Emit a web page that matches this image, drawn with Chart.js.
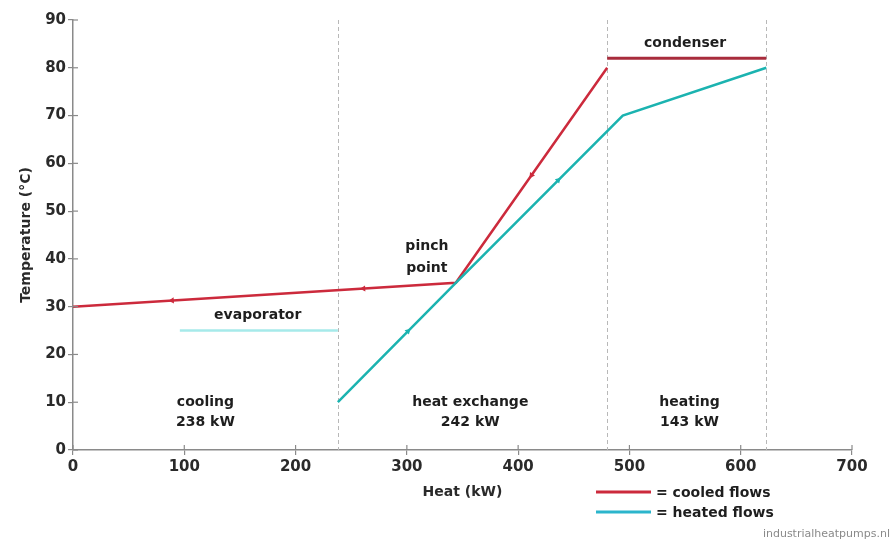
<!DOCTYPE html>
<html>
<head>
<meta charset="utf-8">
<script src="https://cdn.jsdelivr.net/npm/chart.js@4/dist/chart.umd.min.js"></script>
<style>
html,body{margin:0;padding:0;background:#fff;}
#wrap{width:894px;height:544px;position:relative;}
</style>
</head>
<body>
<div id="wrap"><canvas id="c" width="894" height="544"></canvas></div>
<script>
// ---- data (Heat kW, Temperature °C) ----
const cooledX = [0, 344, 480];
const cooledY = [30, 35, 80];
const condenserX = [480, 623];
const condenserY = [82, 82];
const heatedX = [238, 344, 494, 623];
const heatedY = [10, 35, 70, 80];
const evaporatorX = [96, 238];
const evaporatorY = [25, 25];
const boundaryX = [238, 480, 623];
const cooledArrowX = [89, 261, 412];
const heatedArrowX = [301, 436];
const xTicks = [0, 100, 200, 300, 400, 500, 600, 700];
const yTicks = [0, 10, 20, 30, 40, 50, 60, 70, 80, 90];
const zoneLabels = [["cooling", "238 kW"], ["heat exchange", "242 kW"], ["heating", "143 kW"]];
const zoneCentres = [119, 357, 554];
const legendLabels = ["= cooled flows", "= heated flows"];

const RED = '#cc2a3c', RED_DARK = '#a82c3c', CYAN = '#1bb3b0', CYAN_LIGHT = '#a6eaea';
const FONT = '"DejaVu Sans", sans-serif';

const pts = (xs, ys) => xs.map((x, i) => ({x, y: ys[i]}));
function interp(xs, ys, x) {
  for (let i = 0; i < xs.length - 1; i++) {
    if (x >= xs[i] && x <= xs[i+1]) return ys[i] + (ys[i+1]-ys[i]) * (x - xs[i]) / (xs[i+1]-xs[i]);
  }
  return ys[ys.length-1];
}
const cooledArrows = cooledArrowX.map(x => ({x, y: interp(cooledX, cooledY, x)}));
const heatedArrows = heatedArrowX.map(x => ({x, y: interp(heatedX, heatedY, x)}));

function arrowRotation(xs, ys, dir) {
  return ctx => {
    const chart = ctx.chart, sx = chart.scales.x, sy = chart.scales.y;
    const p = ctx.raw; if (!p) return 0;
    let i = 0; while (i < xs.length - 2 && p.x > xs[i+1]) i++;
    const dx = sx.getPixelForValue(xs[i+1]) - sx.getPixelForValue(xs[i]);
    const dy = sy.getPixelForValue(ys[i+1]) - sy.getPixelForValue(ys[i]);
    return Math.atan2(dy * dir, dx * dir) * 180 / Math.PI + 90;
  };
}

const overlay = {
  id: 'overlay',
  beforeDatasetsDraw(chart) {
    const {ctx, scales: {x, y}} = chart;
    ctx.save();
    ctx.strokeStyle = '#b8b8b8';
    ctx.lineWidth = 1;
    ctx.setLineDash([4, 3]);
    boundaryX.forEach(v => {
      const px = Math.round(x.getPixelForValue(v)) + 0.5;
      ctx.beginPath(); ctx.moveTo(px, y.getPixelForValue(90)); ctx.lineTo(px, y.getPixelForValue(0)); ctx.stroke();
    });
    ctx.restore();
  },
  afterDraw(chart) {
    const {ctx, scales: {x, y}} = chart;
    ctx.save();
    ctx.strokeStyle = '#8a8a8a'; ctx.lineWidth = 1.2;
    const x0 = x.getPixelForValue(0), y0 = y.getPixelForValue(0);
    xTicks.forEach(v => { const px = x.getPixelForValue(v); ctx.beginPath(); ctx.moveTo(px, y0); ctx.lineTo(px, y0 - 5); ctx.stroke(); });
    yTicks.forEach(v => { const py = y.getPixelForValue(v); ctx.beginPath(); ctx.moveTo(x0, py); ctx.lineTo(x0 + 5, py); ctx.stroke(); });
    ctx.fillStyle = '#1e1e1e';
    ctx.font = 'bold 14px ' + FONT;
    ctx.textAlign = 'center'; ctx.textBaseline = 'middle';
    zoneLabels.forEach((lines, i) => {
      const px = x.getPixelForValue(zoneCentres[i]);
      ctx.fillText(lines[0], px, y.getPixelForValue(10));
      ctx.fillText(lines[1], px, y.getPixelForValue(5.7));
    });
    ctx.fillText('evaporator', x.getPixelForValue(166), y.getPixelForValue(28.1));
    ctx.fillText('pinch', x.getPixelForValue(318), y.getPixelForValue(42.6));
    ctx.fillText('point', x.getPixelForValue(318), y.getPixelForValue(38));
    ctx.fillText('condenser', x.getPixelForValue(550), y.getPixelForValue(85.2));
    const lx = 596, ly = [492, 512];
    [RED, '#2bb5cc'].forEach((c, i) => {
      ctx.strokeStyle = c; ctx.lineWidth = 3; ctx.setLineDash([]);
      ctx.beginPath(); ctx.moveTo(lx, ly[i]); ctx.lineTo(lx + 55, ly[i]); ctx.stroke();
      ctx.textAlign = 'left';
      ctx.fillStyle = '#1e1e1e';
      ctx.fillText(legendLabels[i], lx + 60, ly[i] + 1);
    });
    ctx.font = '11px ' + FONT;
    ctx.fillStyle = '#8a8a8a';
    ctx.textAlign = 'right';
    ctx.fillText('industrialheatpumps.nl', 890, 534);
    ctx.restore();
  }
};

const lineDs = (label, data, color, width) => ({
  label, data, showLine: true, borderColor: color, backgroundColor: color,
  borderWidth: width, pointRadius: 0, pointHoverRadius: 0, tension: 0, order: 2
});

new Chart(document.getElementById('c'), {
  type: 'scatter',
  data: {
    datasets: [
      lineDs('evaporator', pts(evaporatorX, evaporatorY), CYAN_LIGHT, 2.5),
      lineDs('heated flows', pts(heatedX, heatedY), CYAN, 2.5),
      lineDs('cooled flows', pts(cooledX, cooledY), RED, 2.5),
      lineDs('condenser', pts(condenserX, condenserY), RED_DARK, 3),
      { label: 'cooled arrows', data: cooledArrows, pointStyle: 'triangle', pointRadius: 3.5,
        backgroundColor: RED, borderColor: RED, borderWidth: 0, showLine: false, order: 1,
        rotation: arrowRotation(cooledX, cooledY, -1) },
      { label: 'heated arrows', data: heatedArrows, pointStyle: 'triangle', pointRadius: 3.5,
        backgroundColor: CYAN, borderColor: CYAN, borderWidth: 0, showLine: false, order: 1,
        rotation: arrowRotation(heatedX, heatedY, 1) }
    ]
  },
  options: {
    responsive: false,
    animation: false,
    layout: { padding: { left: 18, right: 42, top: 20, bottom: 43 } },
    plugins: { legend: { display: false }, tooltip: { enabled: false } },
    scales: {
      x: {
        type: 'linear', min: 0, max: 700,
        afterBuildTicks: s => { s.ticks = xTicks.map(v => ({value: v})); },
        afterFit: s => { s.height = 51; },
        grid: { display: true, drawOnChartArea: false, drawTicks: true, tickLength: 5, color: '#8a8a8a', lineWidth: 1.2 },
        border: { display: true, color: '#8a8a8a', width: 1.5 },
        ticks: { color: '#2a2a2a', font: { family: FONT, size: 15, weight: 'bold' }, padding: 3, maxRotation: 0 },
        title: { display: true, text: 'Heat (kW)', color: '#2a2a2a', font: { family: FONT, size: 14, weight: 'bold' }, padding: { top: 0, bottom: 0 } }
      },
      y: {
        type: 'linear', min: 0, max: 90,
        afterBuildTicks: s => { s.ticks = yTicks.map(v => ({value: v})); },
        afterFit: s => { s.width = 55; },
        grid: { display: true, drawOnChartArea: false, drawTicks: true, tickLength: 5, color: '#8a8a8a', lineWidth: 1.2 },
        border: { display: true, color: '#8a8a8a', width: 1.5 },
        ticks: { color: '#2a2a2a', font: { family: FONT, size: 15, weight: 'bold' }, padding: 2 },
        title: { display: true, text: 'Temperature (°C)', color: '#2a2a2a', font: { family: FONT, size: 14, weight: 'bold' }, padding: { top: 0, bottom: 2 } }
      }
    }
  },
  plugins: [overlay]
});
</script>
</body>
</html>
